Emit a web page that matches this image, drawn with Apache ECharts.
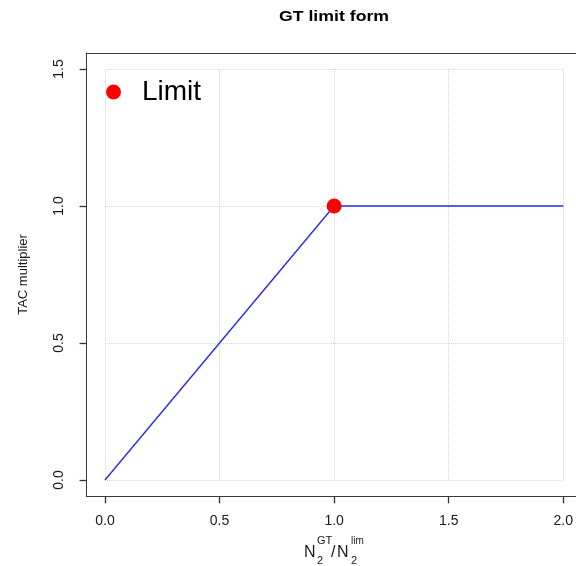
<!DOCTYPE html>
<html><head><meta charset="utf-8">
<script src="https://cdn.jsdelivr.net/npm/echarts@6/dist/echarts.min.js"></script>
<style>html,body{margin:0;padding:0;background:#fff}#c{width:576px;height:566px}</style>
</head><body><div id="c"></div>
<script>
// Data
var ratioX = [0, 1, 2];
var tacMultiplier = [0, 1, 1];
var limitX = [1];
var limitY = [1];
var xTicks = [0, 0.5, 1, 1.5, 2];
var yTicks = [0, 0.5, 1, 1.5];

var FONT = 'Liberation Sans, Arial, sans-serif';
var chart = echarts.init(document.getElementById('c'), null, {renderer: 'canvas'});
var lineData = ratioX.map(function (x, i) { return [x, tacMultiplier[i]]; });
var limData = limitX.map(function (x, i) { return [x, limitY[i]]; });
var axisCol = '#3a3a3a';
var txtCol = '#1a1a1a';
var splitStyle = {show: true, lineStyle: {color: '#d6d6d6', type: 'dotted', width: 1}};

function fmt(v) { return v.toFixed(1); }
function piece(text, x, y, size) {
  return {type: 'text', x: x, y: y, silent: true,
    style: {text: text, font: size + 'px Liberation Sans, Arial, sans-serif', fill: txtCol, textVerticalAlign: 'middle'}};
}

chart.setOption({
  animation: false,
  textStyle: {fontFamily: FONT},
  grid: [
    {left: 105, top: 69, width: 460, height: 411},
    {left: 86.6, top: 53, width: 496.8, height: 443.6}
  ],
  legend: {
    data: [{name: 'Limit', icon: 'circle'}],
    left: 106, top: 78, padding: 0, itemWidth: 15, itemHeight: 15,
    textStyle: {fontSize: 28, color: '#000', fontFamily: FONT, padding: [0, 0, 0, 16]}
  },
  graphic: [
    {type: 'text', x: 334, y: 17, scaleX: 1.18, silent: true,
      style: {text: 'GT limit form', font: 'bold 15px Liberation Sans, Arial, sans-serif', fill: '#000', textAlign: 'center', textVerticalAlign: 'middle'}},
    piece('N', 304, 553, 16),
    piece('GT', 317, 541, 11),
    piece('2', 317, 561, 11),
    piece('/', 331, 553, 16),
    piece('N', 337, 553, 16),
    piece('lim', 351, 541, 10),
    piece('2', 351, 561, 11)
  ],
  xAxis: [{
    gridIndex: 0, type: 'value', min: 0, max: 2, interval: 0.5, offset: 16.4,
    axisLine: {show: true, onZero: false, lineStyle: {color: axisCol, width: 1}},
    axisTick: {show: true, length: 7, lineStyle: {color: '#333', width: 1.3}},
    axisLabel: {show: true, fontSize: 14, color: txtCol, margin: 18, formatter: fmt},
    splitLine: splitStyle
  }, {
    gridIndex: 1, type: 'value', position: 'bottom', min: 0, max: 1,
    axisLine: {show: true, onZero: false, lineStyle: {color: axisCol, width: 1}},
    axisTick: {show: false}, axisLabel: {show: false}, splitLine: {show: false}
  }, {
    gridIndex: 1, type: 'value', position: 'top', min: 0, max: 1,
    axisLine: {show: true, onZero: false, lineStyle: {color: axisCol, width: 1}},
    axisTick: {show: false}, axisLabel: {show: false}, splitLine: {show: false}
  }],
  yAxis: [{
    gridIndex: 0, type: 'value', min: 0, max: 1.5, interval: 0.5, offset: 18.4,
    name: 'TAC multiplier', nameLocation: 'middle', nameGap: 57,
    nameTextStyle: {fontSize: 13, color: txtCol},
    axisLine: {show: true, onZero: false, lineStyle: {color: axisCol, width: 1}},
    axisTick: {show: true, length: 7, lineStyle: {color: '#333', width: 1.3}},
    axisLabel: {show: true, fontSize: 14, color: txtCol, rotate: 90, margin: 20, formatter: fmt},
    splitLine: splitStyle
  }, {
    gridIndex: 1, type: 'value', position: 'left', min: 0, max: 1,
    axisLine: {show: true, onZero: false, lineStyle: {color: axisCol, width: 1}},
    axisTick: {show: false}, axisLabel: {show: false}, splitLine: {show: false}
  }, {
    gridIndex: 1, type: 'value', position: 'right', min: 0, max: 1,
    axisLine: {show: true, onZero: false, lineStyle: {color: axisCol, width: 1}},
    axisTick: {show: false}, axisLabel: {show: false}, splitLine: {show: false}
  }],
  series: [
    {
      type: 'line', name: 'TAC', xAxisIndex: 0, yAxisIndex: 0, data: lineData,
      showSymbol: false, symbol: 'none', clip: false,
      lineStyle: {color: '#2a2aea', width: 1.4}, z: 3
    },
    {
      type: 'scatter', name: 'Limit', xAxisIndex: 0, yAxisIndex: 0, data: limData,
      symbol: 'circle', symbolSize: 15, clip: false,
      itemStyle: {color: '#ff0000', opacity: 1}, z: 4
    }
  ]
});
</script></body></html>
